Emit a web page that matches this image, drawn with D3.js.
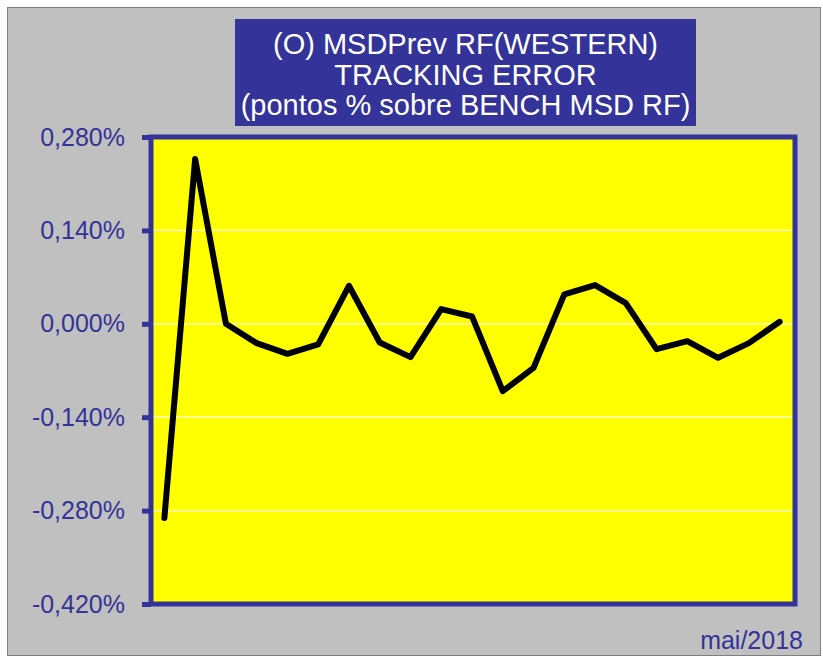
<!DOCTYPE html>
<html>
<head>
<meta charset="utf-8">
<script src="https://cdn.jsdelivr.net/npm/d3@7"></script>
<style>
  body { margin: 0; background: #fff; }
  svg { display: block; font-family: "Liberation Sans", Arial, sans-serif; }
</style>
</head>
<body>
<div id="chart"></div>
<script>
// meses (só o último aparece no eixo)
var months = ["set/2016","out/2016","nov/2016","dez/2016",
  "jan/2017","fev/2017","mar/2017","abr/2017","mai/2017","jun/2017",
  "jul/2017","ago/2017","set/2017","out/2017","nov/2017","dez/2017",
  "jan/2018","fev/2018","mar/2018","abr/2018","mai/2018"];
// tracking error em pontos %
var trackingError = [-0.291, 0.247, 0.000, -0.029, -0.045, -0.031, 0.057, -0.028, -0.050, 0.022,
  0.011, -0.101, -0.066, 0.044, 0.058, 0.031, -0.038, -0.026, -0.051, -0.029, 0.003];
var yTicks = [0.28, 0.14, 0, -0.14, -0.28, -0.42];
var titleLines = ["(O) MSDPrev RF(WESTERN)", "TRACKING ERROR", "(pontos % sobre BENCH MSD RF)"];
var lastLabel = "mai/2018";

var width = 823, height = 659;
var plot = { left: 151, right: 795, top: 137, bottom: 604 };
var blue = "#333399";

var svg = d3.select("#chart").append("svg")
    .attr("width", width)
    .attr("height", height);

// fundo cinza com moldura
svg.append("rect")
    .attr("x", 7.5).attr("y", 7.5)
    .attr("width", 813).attr("height", 648)
    .attr("fill", "#c0c0c0")
    .attr("stroke", "#7f7f7f")
    .attr("stroke-width", 1);

// caixa do título
var tbox = svg.append("g");
tbox.append("rect")
    .attr("x", 235).attr("y", 19)
    .attr("width", 461).attr("height", 107)
    .attr("fill", blue);
tbox.selectAll("text")
    .data(titleLines)
    .enter().append("text")
    .attr("x", 465.5)
    .attr("y", function(d, i) { return 54 + i * 30.5; })
    .attr("text-anchor", "middle")
    .attr("fill", "#fff")
    .style("font-size", "29px")
    .text(function(d) { return d; });

var x = d3.scalePoint()
    .domain(months)
    .range([149, plot.right])
    .padding(0.5);

var y = d3.scaleLinear()
    .domain([-0.42, 0.28])
    .range([plot.bottom, plot.top]);

// área amarela
svg.append("rect")
    .attr("x", plot.left).attr("y", plot.top)
    .attr("width", plot.right - plot.left)
    .attr("height", plot.bottom - plot.top)
    .attr("fill", "#ffff00");

// linhas de grade
svg.selectAll(".grid")
    .data(yTicks.slice(1, -1))
    .enter().append("line")
    .attr("class", "grid")
    .attr("x1", plot.left).attr("x2", plot.right)
    .attr("y1", function(d) { return y(d); })
    .attr("y2", function(d) { return y(d); })
    .attr("stroke", "#fffff0")
    .attr("stroke-width", 1.2);

// série
var line = d3.line()
    .x(function(d, i) { return x(months[i]); })
    .y(function(d) { return y(d); });

svg.append("path")
    .datum(trackingError)
    .attr("d", line)
    .attr("fill", "none")
    .attr("stroke", "#000")
    .attr("stroke-width", 6)
    .attr("stroke-linejoin", "round")
    .attr("stroke-linecap", "round");

// borda da área
svg.append("rect")
    .attr("x", plot.left).attr("y", plot.top)
    .attr("width", plot.right - plot.left)
    .attr("height", plot.bottom - plot.top)
    .attr("fill", "none")
    .attr("stroke", blue)
    .attr("stroke-width", 5);

// eixo y
var fmt = function(d) { return d3.format(".3f")(d).replace("−", "-").replace(".", ",") + "%"; };
var yAxis = d3.axisLeft(y)
    .tickValues(yTicks)
    .tickSize(9)
    .tickPadding(17)
    .tickFormat(fmt);

var ga = svg.append("g")
    .attr("transform", "translate(" + plot.left + ",0)")
    .call(yAxis);
ga.select(".domain").remove();
ga.selectAll(".tick line")
    .attr("stroke", blue)
    .attr("stroke-width", 5);
ga.selectAll(".tick text")
    .attr("fill", blue)
    .style("font-size", "25px")
    .style("font-family", "'Liberation Sans', Arial, sans-serif");

// rótulo do último mês
svg.append("text")
    .attr("x", 803)
    .attr("y", 649)
    .attr("text-anchor", "end")
    .attr("fill", blue)
    .style("font-size", "25px")
    .text(lastLabel);
</script>
</body>
</html>
